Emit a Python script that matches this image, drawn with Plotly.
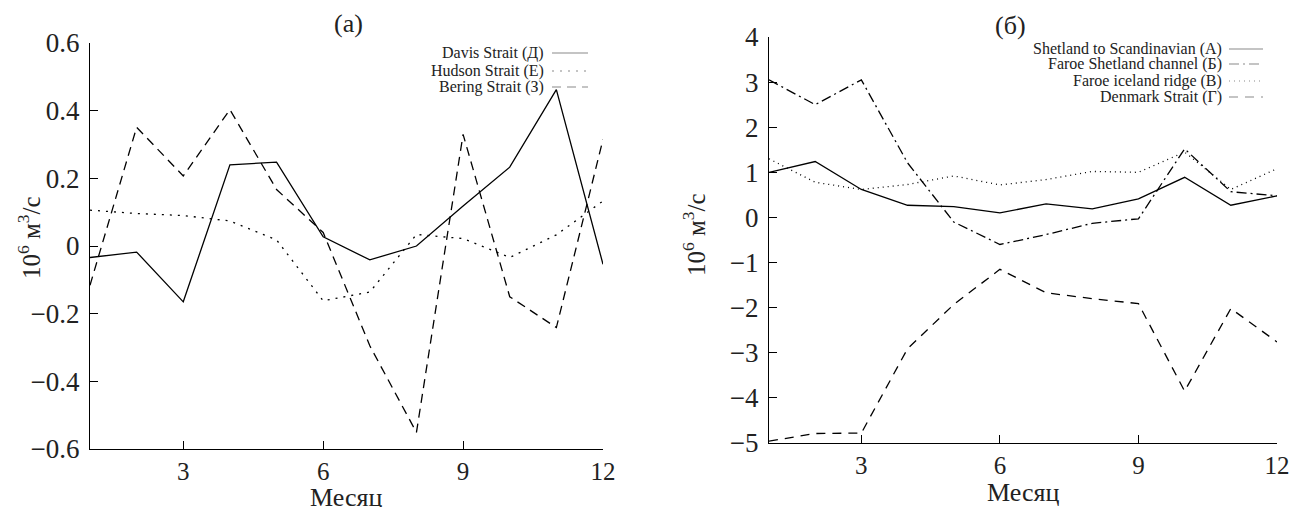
import plotly.graph_objects as go

months = list(range(1, 13))

# Panel (a)
davis = [-0.034, -0.018, -0.165, 0.240, 0.248, 0.027, -0.041, 0.000, 0.118, 0.233, 0.462, -0.054]
hudson = [0.106, 0.096, 0.090, 0.074, 0.018, -0.162, -0.136, 0.034, 0.022, -0.034, 0.033, 0.133]
bering = [-0.116, 0.351, 0.207, 0.403, 0.167, 0.040, -0.295, -0.551, 0.330, -0.150, -0.241, 0.315]

# Panel (б)
shetland = [1.00, 1.24, 0.62, 0.27, 0.24, 0.10, 0.30, 0.19, 0.41, 0.89, 0.27, 0.48]
faroe_shet = [3.05, 2.50, 3.05, 1.21, -0.10, -0.60, -0.38, -0.13, -0.03, 1.52, 0.57, 0.48]
faroe_ice = [1.30, 0.78, 0.62, 0.73, 0.92, 0.72, 0.84, 1.02, 1.00, 1.45, 0.62, 1.08]
denmark = [-4.96, -4.79, -4.78, -2.91, -1.93, -1.15, -1.67, -1.80, -1.91, -3.85, -2.02, -2.76]

left_names = ["Davis Strait (Д)", "Hudson Strait (E)", "Bering Strait (З)"]
right_names = ["Shetland to Scandinavian (А)", "Faroe Shetland channel (Б)",
               "Faroe iceland ridge (В)", "Denmark Strait (Г)"]

left_ticks = [-0.6, -0.4, -0.2, 0, 0.2, 0.4, 0.6]
left_ticktext = ["\u22120.6", "\u22120.4", "\u22120.2", "0", "0.2", "0.4", "0.6"]
right_ticks = list(range(-5, 5))
right_ticktext = ["\u22125", "\u22124", "\u22123", "\u22122", "\u22121", "0", "1", "2", "3", "4"]
month_ticks = [3, 6, 9, 12]

FONT = "Liberation Serif, Times New Roman, serif"
W, H = 1293, 507

fig = go.Figure()

left_series = [(davis, "solid"), (hudson, "2px,6px"), (bering, "9px,6px")]
right_series = [(shetland, "solid"), (faroe_shet, "10px,4px,2px,4px"), (faroe_ice, "1px,4px"), (denmark, "9px,7px")]

for (vals, dash), name in zip(left_series, left_names):
    fig.add_trace(go.Scatter(x=months, y=vals, mode="lines", name=name,
                             line=dict(color="black", width=1.3, dash=dash),
                             xaxis="x", yaxis="y", showlegend=False))
for (vals, dash), name in zip(right_series, right_names):
    fig.add_trace(go.Scatter(x=months, y=vals, mode="lines", name=name,
                             line=dict(color="black", width=1.3, dash=dash),
                             xaxis="x2", yaxis="y2", showlegend=False))

def px(x):
    return x / W

def py(y):
    return 1 - y / H

axis_common = dict(showgrid=False, zeroline=False, showline=True, linecolor="black",
                   linewidth=1.3, ticks="inside", ticklen=8, tickcolor="black",
                   tickwidth=1.3, automargin=False)
xfont = dict(family=FONT, size=25, color="#222")
yfont = dict(family=FONT, size=27, color="#222")

fig.update_layout(
    template="simple_white",
    width=W, height=H, margin=dict(l=0, r=0, t=0, b=0, autoexpand=False),
    paper_bgcolor="white", plot_bgcolor="white",
    font=dict(family=FONT, color="#222", size=14),
    xaxis=dict(domain=[px(90), px(603)], range=[1, 12], tickvals=month_ticks,
               anchor="y", tickfont=xfont, **axis_common),
    yaxis=dict(domain=[py(449), py(43)], range=[-0.6, 0.6], tickvals=left_ticks,
               ticktext=left_ticktext, anchor="x", tickfont=yfont,
               ticklabelstandoff=4, **axis_common),
    xaxis2=dict(domain=[px(769), px(1277)], range=[1, 12], tickvals=month_ticks,
                anchor="y2", tickfont=xfont, **axis_common),
    yaxis2=dict(domain=[py(443), py(37)], range=[-5, 4], tickvals=right_ticks,
                ticktext=right_ticktext, anchor="x2", tickfont=yfont,
                ticklabelstandoff=4, **axis_common),
)

def label(text, x, y, size, xanchor="center", angle=0):
    return dict(text=text, x=px(x), y=py(y), xref="paper", yref="paper",
                xanchor=xanchor, yanchor="middle", textangle=angle,
                showarrow=False, font=dict(family=FONT, size=size, color="#222"))

ann = []
ann.append(label("(a)", 348, 23, 26))
ann.append(label("(б)", 1010, 25, 26))
ann.append(label("Месяц", 346, 497, 26))
ann.append(label("Месяц", 1023, 492, 26))
ytxt = "10<sup>6</sup> м<sup>3</sup>/с"
ann.append(label(ytxt, 29, 238, 25, angle=-90))
ann.append(label(ytxt, 694, 235, 25, angle=-90))

shapes = []
left_rows = [53, 71, 87]
for name, (vals, dash), yy in zip(left_names, left_series, left_rows):
    ann.append(label(name, 546, yy, 16, xanchor="right"))
    shapes.append(dict(type="line", xref="paper", yref="paper", x0=px(552), x1=px(588),
                       y0=py(yy), y1=py(yy), line=dict(color="black", width=1.5, dash=dash)))
right_rows = [49, 64, 81, 97]
for name, (vals, dash), yy in zip(right_names, right_series, right_rows):
    ann.append(label(name, 1224, yy, 16, xanchor="right"))
    shapes.append(dict(type="line", xref="paper", yref="paper", x0=px(1229), x1=px(1263),
                       y0=py(yy), y1=py(yy), line=dict(color="black", width=1.5, dash=dash)))

fig.update_layout(annotations=ann, shapes=shapes)
fig.write_html("out.html", config={"displayModeBar": False},
               post_script="document.body.style.margin='0';document.body.style.overflow='hidden';")
